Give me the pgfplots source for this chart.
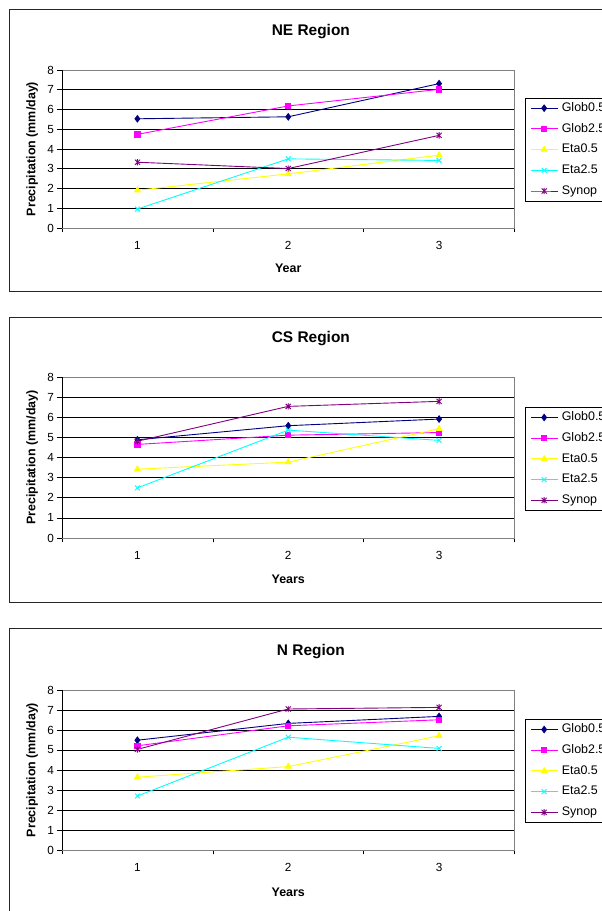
\documentclass[border=0pt]{standalone}
\usepackage{fontspec}
\setmainfont{Liberation Sans}
\usepackage{pgfplots}
\pgfplotsset{compat=1.18}

\definecolor{cGa}{RGB}{0,0,128}
\definecolor{cGb}{RGB}{255,0,255}
\definecolor{cEa}{RGB}{255,255,0}
\definecolor{cEb}{RGB}{0,255,255}
\definecolor{cSy}{RGB}{128,0,128}

\pgfdeclareplotmark{xstar}{%
 \pgfpathmoveto{\pgfqpoint{-0.8\pgfplotmarksize}{-0.8\pgfplotmarksize}}%
 \pgfpathlineto{\pgfqpoint{0.8\pgfplotmarksize}{0.8\pgfplotmarksize}}%
 \pgfpathmoveto{\pgfqpoint{-0.8\pgfplotmarksize}{0.8\pgfplotmarksize}}%
 \pgfpathlineto{\pgfqpoint{0.8\pgfplotmarksize}{-0.8\pgfplotmarksize}}%
 \pgfpathmoveto{\pgfqpoint{0pt}{-\pgfplotmarksize}}%
 \pgfpathlineto{\pgfqpoint{0pt}{\pgfplotmarksize}}%
 \pgfusepathqstroke}

\pgfplotsset{
 regionstyle/.style={
  scale only axis, width=452.5bp,
  xmin=0.5, xmax=3.5, ymin=0, ymax=8,
  ytick={0,1,2,3,4,5,6,7,8},
  xtick={1,2,3},
  minor xtick={0.5,1.5,2.5,3.5},
  major x tick style={draw=none},
  xticklabel style={yshift=-5.1bp},
  tick align=outside, tick pos=left, major tick length=4.5bp, minor tick length=4.5bp,
  tick style={black, line width=0.6bp},
  ymajorgrids, grid style={black, line width=0.6bp},
  axis line style={draw=gray, line width=0.6bp},
  ticklabel style={font=\fontsize{11.8}{14}\selectfont},
  /pgf/number format/assume math mode=true,
  title style={font=\bfseries\fontsize{15.5}{18}\selectfont, anchor=center, yshift=-6pt},
  xlabel style={font=\bfseries\fontsize{12.5}{15}\selectfont, anchor=center},
  ylabel style={font=\bfseries\fontsize{12.5}{15}\selectfont, anchor=center},
  ylabel={Precipitation (mm/day)},
  legend style={anchor=north west, draw=black, line width=0.6bp, fill=white,
    font=\fontsize{12.5}{15}\selectfont, inner xsep=5bp, inner ysep=4.5bp,
    row sep=9.2bp, column sep=3.7bp,
    nodes={inner sep=0pt, text height=9bp, text depth=2.5bp}},
  legend cell align=left,
  legend image code/.code={\draw[mark repeat=2,mark phase=2,##1] plot coordinates {(0bp,0bp)(13.5bp,0bp)(27bp,0bp)};},
  every axis plot/.append style={line width=0.9bp},
 },
 sGa/.style={color=cGa, mark=diamond*, mark size=3.2bp, mark options={solid, fill=cGa}},
 sGb/.style={color=cGb, mark=square*, mark size=2.6bp, mark options={solid, fill=cGb}},
 sEa/.style={color=cEa, mark=triangle*, mark size=3.3bp, mark options={solid, fill=cEa}},
 sEb/.style={color=cEb, mark=x, mark size=3.4bp, mark options={solid}},
 sSy/.style={color=cSy, mark=xstar, mark size=3.2bp, mark options={solid}},
}

\begin{document}
\begin{tikzpicture}
\useasboundingbox (0,0) rectangle (602bp,911bp);
\begin{scope}
\clip (0,0) rectangle (602bp,911bp);
\draw[line width=1bp, black!85] (9.5bp,619.3bp) rectangle (650bp,901bp);
\draw[line width=1bp, black!85] (9.5bp,308bp) rectangle (650bp,593.7bp);
\draw[line width=1bp, black!85] (9.5bp,-10bp) rectangle (650bp,282bp);

% ---------- NE Region ----------
\begin{axis}[regionstyle, at={(62bp,683bp)}, anchor=south west, height=158bp,
  title={NE Region}, title style={at={(axis description cs:0.55,1.243)}},
  xlabel={Year}, xlabel style={at={(axis description cs:0.5,-0.253)}},
  ylabel style={at={(axis description cs:-0.066,0.5)}},
  legend style={at={(axis description cs:1.023,0.825)}}]
\addplot[sGa] coordinates {(1,5.53) (2,5.63) (3,7.31)};
\addplot[sGb] coordinates {(1,4.74) (2,6.18) (3,7.02)};
\addplot[sEa] coordinates {(1,1.91) (2,2.74) (3,3.69)};
\addplot[sEb] coordinates {(1,0.96) (2,3.50) (3,3.42)};
\addplot[sSy] coordinates {(1,3.33) (2,3.01) (3,4.69)};
\legend{Glob0.5,Glob2.5,Eta0.5,Eta2.5,Synop}
\draw[black, line width=0.7bp] (rel axis cs:0,1) -- (rel axis cs:0,0) -- (rel axis cs:1,0);
\end{axis}

% ---------- CS Region ----------
\begin{axis}[regionstyle, at={(62bp,373bp)}, anchor=south west, height=161bp,
  title={CS Region}, title style={at={(axis description cs:0.55,1.239)}},
  xlabel={Years}, xlabel style={at={(axis description cs:0.5,-0.255)}},
  ylabel style={at={(axis description cs:-0.066,0.5)}},
  legend style={at={(axis description cs:1.023,0.814)}}]
\addplot[sGa] coordinates {(1,4.88) (2,5.58) (3,5.91)};
\addplot[sGb] coordinates {(1,4.65) (2,5.11) (3,5.24)};
\addplot[sEa] coordinates {(1,3.42) (2,3.77) (3,5.43)};
\addplot[sEb] coordinates {(1,2.49) (2,5.36) (3,4.85)};
\addplot[sSy] coordinates {(1,4.81) (2,6.54) (3,6.79)};
\legend{Glob0.5,Glob2.5,Eta0.5,Eta2.5,Synop}
\draw[black, line width=0.7bp] (rel axis cs:0,1) -- (rel axis cs:0,0) -- (rel axis cs:1,0);
\end{axis}

% ---------- N Region ----------
\begin{axis}[regionstyle, at={(62bp,61bp)}, anchor=south west, height=160bp,
  title={N Region}, title style={at={(axis description cs:0.55,1.241)}},
  xlabel={Years}, xlabel style={at={(axis description cs:0.5,-0.2625)}},
  ylabel style={at={(axis description cs:-0.066,0.5)}},
  legend style={at={(axis description cs:1.023,0.819)}}]
\addplot[sGa] coordinates {(1,5.49) (2,6.33) (3,6.68)};
\addplot[sGb] coordinates {(1,5.21) (2,6.21) (3,6.51)};
\addplot[sEa] coordinates {(1,3.64) (2,4.17) (3,5.71)};
\addplot[sEb] coordinates {(1,2.70) (2,5.64) (3,5.08)};
\addplot[sSy] coordinates {(1,5.03) (2,7.05) (3,7.13)};
\legend{Glob0.5,Glob2.5,Eta0.5,Eta2.5,Synop}
\draw[black, line width=0.7bp] (rel axis cs:0,1) -- (rel axis cs:0,0) -- (rel axis cs:1,0);
\end{axis}
\end{scope}
\end{tikzpicture}
\end{document}
